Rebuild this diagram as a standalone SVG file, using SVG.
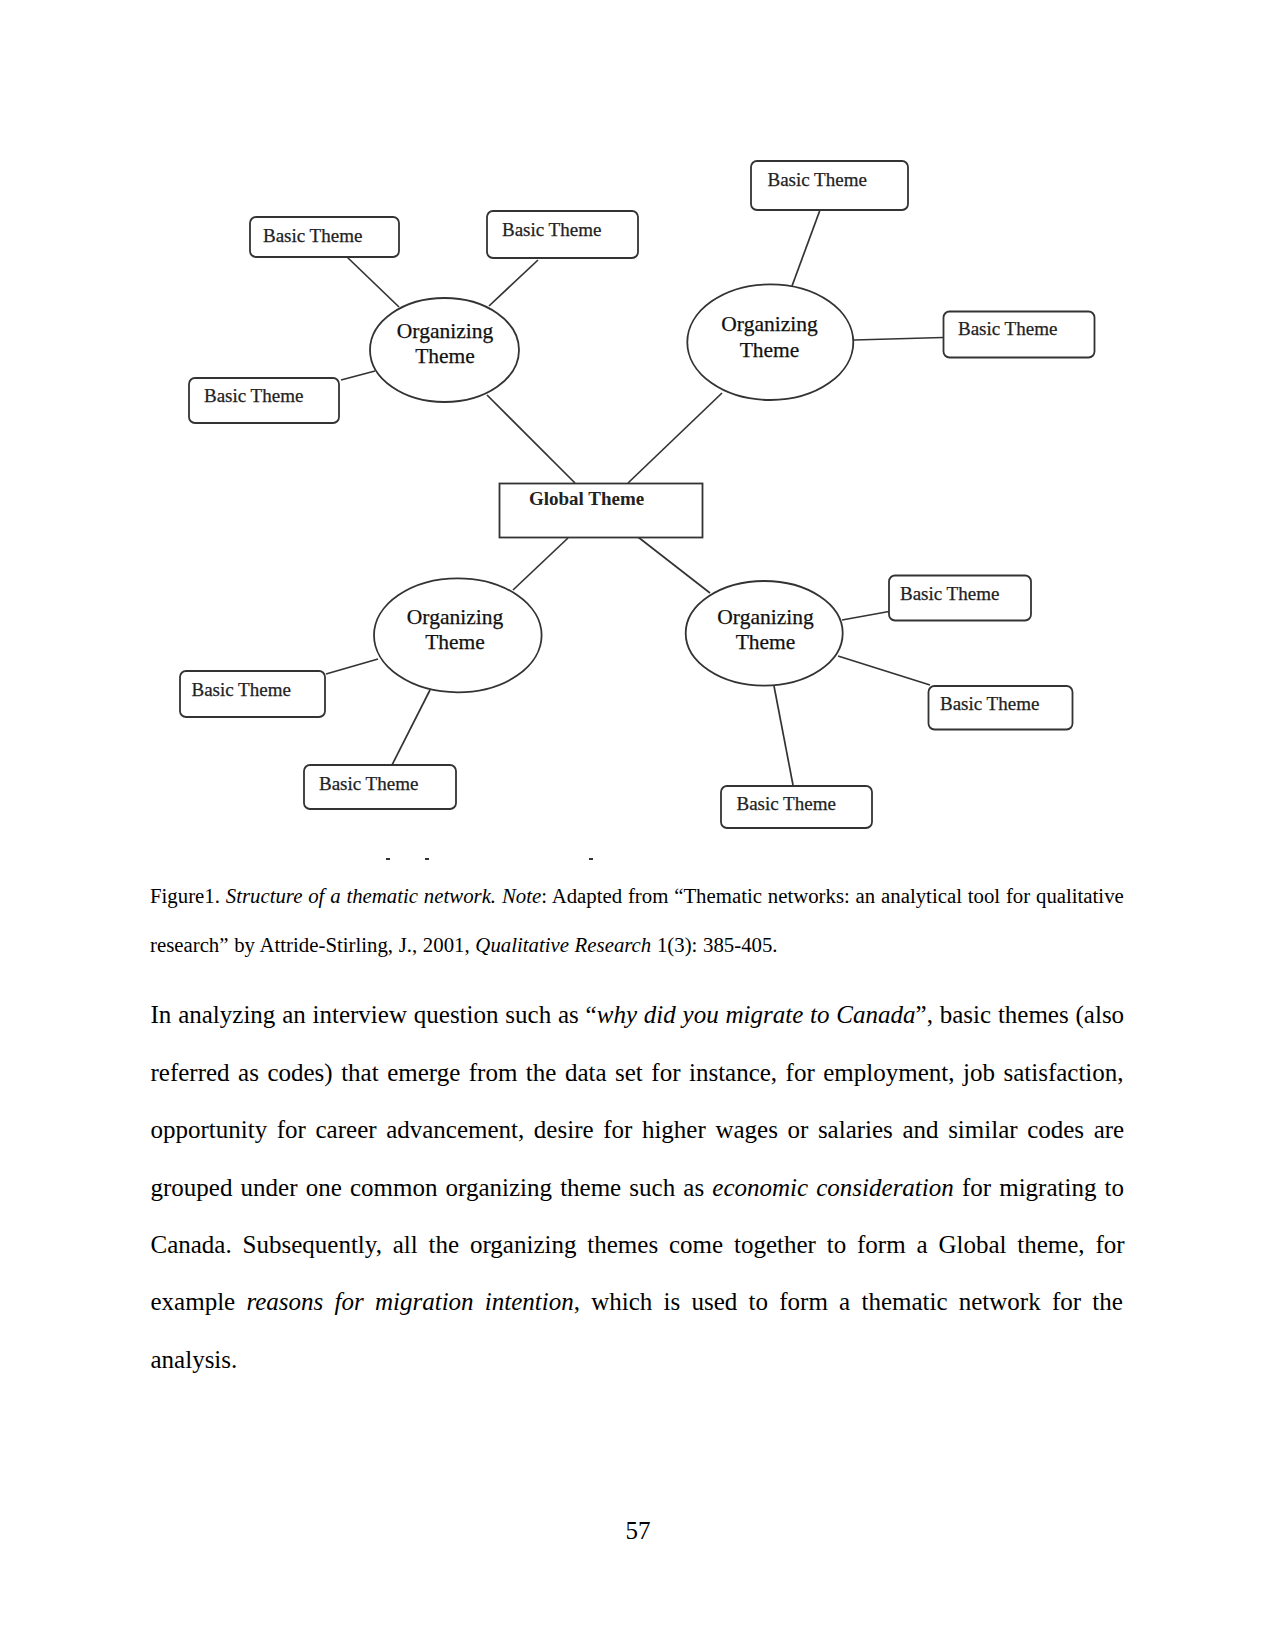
<svg xmlns="http://www.w3.org/2000/svg" width="1275" height="1650" viewBox="0 0 1275 1650">
<style>
.bt{fill:#fff;stroke:#333;stroke-width:1.8}
.og{fill:#fff;stroke:#333;stroke-width:1.8}
.gl{fill:#fff;stroke:#333;stroke-width:1.8}
.lbl{font-family:"Liberation Serif","Times New Roman",serif;font-size:19px;fill:#222;stroke:#222;stroke-width:0.25}
.olbl{font-family:"Liberation Serif","Times New Roman",serif;font-size:21.5px;fill:#111;stroke:#111;stroke-width:0.25;text-anchor:middle}
.glbl{font-family:"Liberation Serif","Times New Roman",serif;font-size:19px;font-weight:bold;fill:#222}
.conn line{stroke:#333;stroke-width:1.7}
.cap{font-family:"Liberation Serif","Times New Roman",serif;font-size:20.8px;fill:#000}
.body{font-family:"Liberation Serif","Times New Roman",serif;font-size:25px;fill:#000}
.it{font-style:italic}
</style>
<rect width="1275" height="1650" fill="#fff"/>

<g id="connectors" class="conn">
  <line x1="347" y1="257" x2="399" y2="307"/>
  <line x1="538" y1="260" x2="489" y2="306"/>
  <line x1="341" y1="380" x2="375" y2="371"/>
  <line x1="487" y1="395" x2="575" y2="483"/>
  <line x1="820" y1="210" x2="792" y2="286"/>
  <line x1="854" y1="340" x2="943" y2="337.5"/>
  <line x1="722" y1="393" x2="628" y2="483"/>
  <line x1="568" y1="538" x2="513" y2="590"/>
  <line x1="638" y1="537" x2="710" y2="593"/>
  <line x1="326" y1="674" x2="378" y2="659"/>
  <line x1="392" y1="765" x2="430" y2="690"/>
  <line x1="842" y1="620" x2="889" y2="611.5"/>
  <line x1="838" y1="656" x2="930" y2="685"/>
  <line x1="774" y1="686" x2="793" y2="785"/>
</g>

<g id="global">
  <rect class="gl" x="499.5" y="483.5" width="203" height="54"/>
  <text class="glbl" x="529" y="505">Global Theme</text>
</g>

<g id="org-tl">
  <ellipse class="og" cx="444.5" cy="350" rx="74.5" ry="52"/>
  <text class="olbl" x="445" y="338">Organizing</text>
  <text class="olbl" x="445" y="363">Theme</text>
</g>
<g id="org-tr">
  <ellipse class="og" cx="770.3" cy="342.2" rx="83" ry="57.8"/>
  <text class="olbl" x="769.5" y="331">Organizing</text>
  <text class="olbl" x="769.5" y="357">Theme</text>
</g>
<g id="org-bl">
  <ellipse class="og" cx="457.8" cy="635.3" rx="83.8" ry="57"/>
  <text class="olbl" x="455" y="623.5">Organizing</text>
  <text class="olbl" x="455" y="648.5">Theme</text>
</g>
<g id="org-br">
  <ellipse class="og" cx="764.2" cy="633.3" rx="78.5" ry="52.3"/>
  <text class="olbl" x="765.5" y="623.5">Organizing</text>
  <text class="olbl" x="765.5" y="648.5">Theme</text>
</g>

<g id="basic-1">
  <rect class="bt" x="250" y="217" width="149" height="40" rx="6"/>
  <text class="lbl" x="263" y="242">Basic Theme</text>
</g>
<g id="basic-2">
  <rect class="bt" x="487" y="211" width="151" height="47" rx="6"/>
  <text class="lbl" x="502" y="236">Basic Theme</text>
</g>
<g id="basic-3">
  <rect class="bt" x="189" y="378" width="150" height="45" rx="6"/>
  <text class="lbl" x="204" y="401.5">Basic Theme</text>
</g>
<g id="basic-4">
  <rect class="bt" x="751" y="161" width="157" height="49" rx="6"/>
  <text class="lbl" x="767.5" y="186">Basic Theme</text>
</g>
<g id="basic-5">
  <rect class="bt" x="943.5" y="311.5" width="151" height="46" rx="6"/>
  <text class="lbl" x="958" y="335">Basic Theme</text>
</g>
<g id="basic-6">
  <rect class="bt" x="180" y="671" width="145" height="46" rx="6"/>
  <text class="lbl" x="191.5" y="695.5">Basic Theme</text>
</g>
<g id="basic-7">
  <rect class="bt" x="304" y="765" width="152" height="44" rx="6"/>
  <text class="lbl" x="319" y="790">Basic Theme</text>
</g>
<g id="basic-8">
  <rect class="bt" x="889" y="575.5" width="142" height="45" rx="6"/>
  <text class="lbl" x="900" y="600">Basic Theme</text>
</g>
<g id="basic-9">
  <rect class="bt" x="928.5" y="686" width="144" height="43.5" rx="6"/>
  <text class="lbl" x="940" y="710">Basic Theme</text>
</g>
<g id="basic-10">
  <rect class="bt" x="721" y="786" width="151" height="42" rx="6"/>
  <text class="lbl" x="736.5" y="809.5">Basic Theme</text>
</g>

<g fill="#333">
  <rect x="386" y="858" width="4" height="2"/>
  <rect x="425" y="858" width="4" height="2"/>
  <rect x="589" y="858" width="4" height="2"/>
</g>

<text class="cap" x="150" y="903" word-spacing="0.63">Figure1. <tspan class="it">Structure of a thematic network. Note</tspan>: Adapted from “Thematic networks: an analytical tool for qualitative</text>
<text class="cap" x="150" y="951.5" word-spacing="0.5">research” by Attride-Stirling, J., 2001, <tspan class="it">Qualitative Research</tspan> 1(3): 385-405.</text>

<text class="body" x="150.5" y="1023" word-spacing="0.57">In analyzing an interview question such as “<tspan class="it">why did you migrate to Canada</tspan>”, basic themes (also</text>
<text class="body" x="150.5" y="1080.5" word-spacing="2.25">referred as codes) that emerge from the data set for instance, for employment, job satisfaction,</text>
<text class="body" x="150.5" y="1138" word-spacing="3.35">opportunity for career advancement, desire for higher wages or salaries and similar codes are</text>
<text class="body" x="150.5" y="1195.5" word-spacing="1.9">grouped under one common organizing theme such as <tspan class="it">economic consideration</tspan> for migrating to</text>
<text class="body" x="150.5" y="1253" word-spacing="4.6">Canada. Subsequently, all the organizing themes come together to form a Global theme, for</text>
<text class="body" x="150.5" y="1310" word-spacing="5.0">example <tspan class="it">reasons for migration intention</tspan>, which is used to form a thematic network for the</text>
<text class="body" x="150.5" y="1367.5">analysis.</text>

<text class="body" x="638" y="1539" text-anchor="middle">57</text>
</svg>
